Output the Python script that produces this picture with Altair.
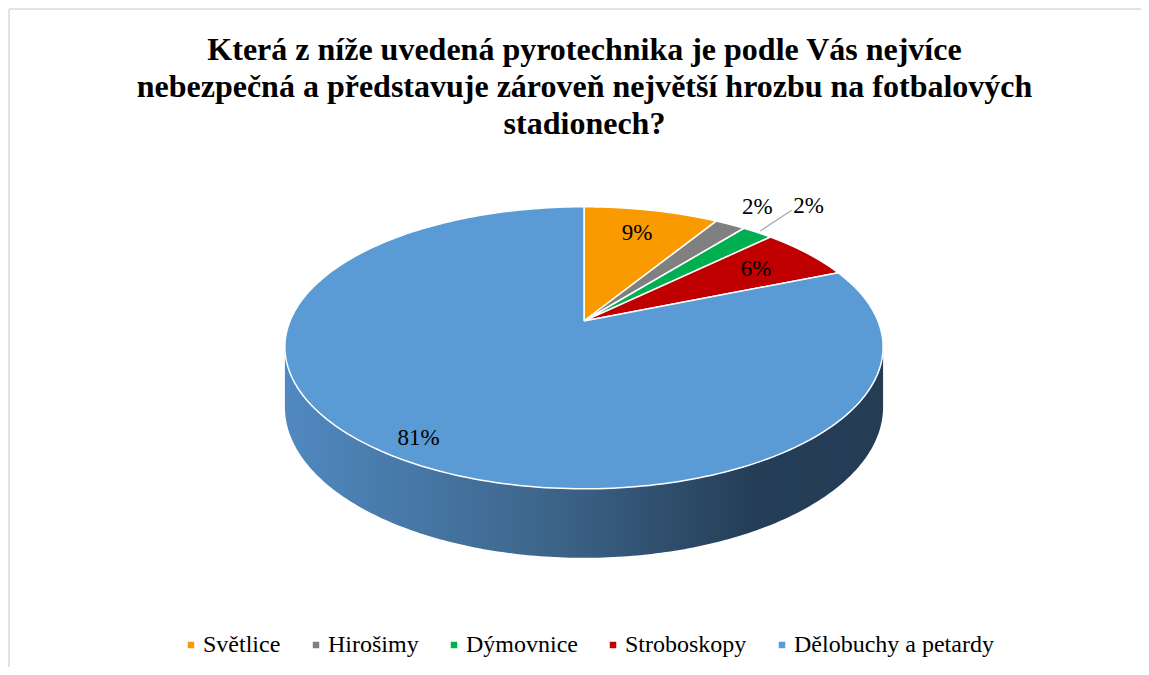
import math
import altair as alt
import pandas as pd

# ---- data ----
labels = ["Světlice", "Hirošimy", "Dýmovnice", "Stroboskopy", "Dělobuchy a petardy"]
values = [9, 2, 2, 6, 81]
colors = ["#F99B00", "#808080", "#00B050", "#C00000", "#5B9BD5"]
title_lines = [
    "Která z níže uvedená pyrotechnika je podle Vás nejvíce",
    "nebezpečná a představuje zároveň největší hrozbu na fotbalových",
    "stadionech?",
]

df = pd.DataFrame({"label": labels, "value": values, "order": list(range(len(labels)))})

# ---- layout / style constants ----
SERIF = "'Liberation Serif', 'Times New Roman', Times, 'DejaVu Serif', serif"
W, H = 1133, 509
PAD_TOP = 150
CX, CY = 576, 163          # centre of the pie top face (view coords)
A, B, P, D = 294, 141, 0.19, 58   # half-width, half-height, perspective, depth
N = 240                    # arc resolution per slice
M = 200                    # side resolution

x_scale = alt.Scale(domain=[0, W], nice=False, zero=False)
y_scale = alt.Scale(domain=[0, H], nice=False, zero=False, reverse=True)

base = (
    alt.Chart(df)
    .transform_joinaggregate(total="sum(value)")
    .transform_window(cum="sum(value)", sort=[alt.SortField("order")], frame=[None, 0])
    .transform_calculate(t0="2*PI*(datum.cum - datum.value)/datum.total")
    .transform_calculate(t1="2*PI*datum.cum/datum.total")
)

# ---- top face slices ----
slices = (
    base.transform_calculate(k=f"sequence(0, {N + 3})")
    .transform_flatten(["k"])
    .transform_calculate(th=f"datum.t0 + (datum.t1 - datum.t0)*(datum.k - 1)/{N}")
    .transform_calculate(edge=f"datum.k >= 1 && datum.k <= {N + 1}")
    .transform_calculate(
        px=f"datum.edge ? {CX} + {A}*sin(datum.th)*(1 - {P}*cos(datum.th)) : {CX}"
    )
    .transform_calculate(
        py=f"datum.edge ? {CY} - {B}*cos(datum.th)*(1 - {P}*cos(datum.th)) : {CY}"
    )
    .mark_line(filled=True, stroke="white", strokeWidth=1.5, strokeJoin="round")
    .encode(
        x=alt.X("px:Q", scale=x_scale, axis=None),
        y=alt.Y("py:Q", scale=y_scale, axis=None),
        color=alt.Color(
            "label:N",
            scale=alt.Scale(domain=labels, range=colors),
            sort=labels,
            legend=alt.Legend(
                orient="none",
                legendX=171,
                legendY=475,
                direction="horizontal",
                title=None,
                symbolType="square",
                symbolSize=42,
                symbolStrokeWidth=0,
                labelFont=SERIF,
                labelFontSize=24,
                labelColor="black",
                labelOffset=0,
                columnPadding=23,
                labelLimit=400,
            ),
        ),
        order=alt.Order("k:Q"),
    )
)

# ---- 3D side wall ----
TH0 = math.radians(100.25)
TH1 = math.radians(259.75)
side = (
    alt.Chart(alt.sequence(0, M + 1, as_="k"))
    .transform_calculate(th=f"{TH0} + ({TH1} - {TH0})*datum.k/{M}")
    .transform_calculate(s=f"1 - {P}*cos(datum.th)")
    .transform_calculate(px=f"{CX} + {A}*sin(datum.th)*datum.s")
    .transform_calculate(pt=f"{CY} - {B}*cos(datum.th)*datum.s")
    .transform_calculate(pb=f"datum.pt + {D}*datum.s")
    .mark_area(
        color=alt.Gradient(
            gradient="linear",
            stops=[
                alt.GradientStop(color="#5089C0", offset=0),
                alt.GradientStop(color="#3C6489", offset=0.45),
                alt.GradientStop(color="#253E57", offset=0.78),
                alt.GradientStop(color="#243C54", offset=1),
            ],
            x1=0, x2=1, y1=0, y2=0,
        )
    )
    .encode(
        x=alt.X("px:Q", scale=x_scale, axis=None),
        y=alt.Y("pt:Q", scale=y_scale, axis=None),
        y2="pb:Q",
    )
)

# ---- data labels ----
lab = (
    base.transform_calculate(tm="(datum.t0 + datum.t1)/2")
    .transform_calculate(
        r="datum.value < 5 ? (datum.order % 2 == 1 ? 1.24 : 1.38) : (datum.value > 50 ? 0.88 : 0.75)"
    )
    .transform_calculate(s=f"1 - {P}*datum.r*cos(datum.tm)")
    .transform_calculate(px=f"{CX} + {A}*datum.r*sin(datum.tm)*datum.s")
    .transform_calculate(py=f"{CY} - {B}*datum.r*cos(datum.tm)*datum.s")
    .transform_calculate(txt="datum.value + '%'")
)
text = lab.mark_text(font=SERIF, fontSize=23, color="black", align="center", baseline="middle").encode(
    x=alt.X("px:Q", scale=x_scale, axis=None),
    y=alt.Y("py:Q", scale=y_scale, axis=None),
    text="txt:N",
)

# leader line for the outer label that sits far from its slice
leader = (
    lab.transform_filter("datum.r > 1.3")
    .transform_calculate(es=f"1 - {P}*1.02*cos(datum.tm)")
    .transform_calculate(ex=f"{CX} + {A}*1.02*sin(datum.tm)*datum.es")
    .transform_calculate(ey=f"{CY} - {B}*1.02*cos(datum.tm)*datum.es")
    .transform_calculate(lx="datum.px - 17")
    .transform_calculate(ly="datum.py + 4")
    .mark_rule(color="#A6A6A6", strokeWidth=1.2)
    .encode(
        x=alt.X("ex:Q", scale=x_scale, axis=None),
        y=alt.Y("ey:Q", scale=y_scale, axis=None),
        x2="lx:Q",
        y2="ly:Q",
    )
)

# ---- chart frame (decoration) ----
one = pd.DataFrame({"f": [0]})
frame_top = alt.Chart(one).mark_rule(color="#D9D9D9", strokeWidth=1.5).encode(
    x=alt.value(1), x2=alt.value(W), y=alt.value(-PAD_TOP + 1), y2=alt.value(-PAD_TOP + 1)
)
frame_left = alt.Chart(one).mark_rule(color="#D9D9D9", strokeWidth=1.5).encode(
    x=alt.value(1), x2=alt.value(1), y=alt.value(-PAD_TOP + 1), y2=alt.value(H)
)

chart = (
    alt.layer(frame_top, frame_left, side, slices, leader, text)
    .properties(
        width=W,
        height=H,
        autosize=alt.AutoSizeParams(type="none"),
        padding={"left": 0, "top": PAD_TOP, "right": 0, "bottom": 0},
        title=alt.Title(
            title_lines,
            font=SERIF,
            fontSize=32,
            fontWeight="bold",
            color="black",
            anchor="middle",
            lineHeight=37,
            dx=10,
            dy=133,
            offset=0,
        ),
        background="white",
    )
    .configure_view(stroke=None)
)

chart.save("out.html", embed_options={"renderer": "svg", "actions": False})
